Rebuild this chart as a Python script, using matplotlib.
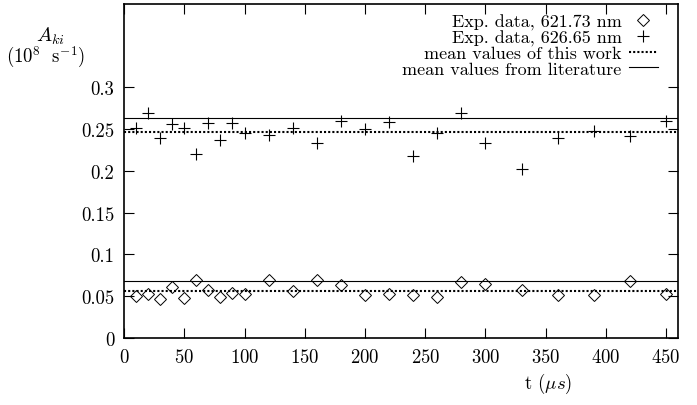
import numpy as np
import matplotlib
matplotlib.use("Agg")
import matplotlib.pyplot as plt
from matplotlib.ticker import MultipleLocator

plt.rcParams['font.family'] = ['cmr10', 'DejaVu Serif']
plt.rcParams['mathtext.fontset'] = 'cm'
plt.rcParams['axes.formatter.use_mathtext'] = True

# time points (us)
t = [10, 20, 30, 40, 50, 60, 70, 80, 90, 100, 120, 140, 160, 180, 200, 220,
     240, 260, 280, 300, 330, 360, 390, 420, 450]

# 621.73 nm
a_621 = [0.050, 0.053, 0.047, 0.061, 0.048, 0.069, 0.058, 0.049, 0.054, 0.053,
         0.069, 0.056, 0.070, 0.064, 0.051, 0.053, 0.051, 0.049, 0.067, 0.065,
         0.057, 0.052, 0.052, 0.068, 0.053]
# 626.65 nm
a_626 = [0.252, 0.269, 0.239, 0.256, 0.252, 0.220, 0.257, 0.237, 0.257, 0.246,
         0.243, 0.251, 0.233, 0.260, 0.250, 0.259, 0.218, 0.246, 0.269, 0.233,
         0.202, 0.240, 0.248, 0.242, 0.260]

mean_this = [0.0566, 0.2472]
mean_lit = [0.0686, 0.2632]

fs = 13.5

fig = plt.figure(figsize=(6.97, 4.06), dpi=100)
ax = fig.add_axes([0.178, 0.165, 0.795, 0.823])

ax.plot(t, a_621, ls='none', marker='D', ms=6.5, mfc='none', mec='black', mew=0.7,
        label='Exp. data, 621.73 nm')
ax.plot(t, a_626, ls='none', marker='+', ms=9, mec='black', mew=0.8,
        label='Exp. data, 626.65 nm')
for i, m in enumerate(mean_this):
    ax.axhline(m, color='black', lw=1.5, ls=(0, (1, 1)),
               label='mean values of this work' if i == 0 else None)
for i, m in enumerate(mean_lit):
    ax.axhline(m, color='black', lw=0.8,
               label='mean values from literature' if i == 0 else None)

ax.set_xlim(0, 460)
ax.set_ylim(0, 0.4)
ax.set_yticks([0, 0.05, 0.1, 0.15, 0.2, 0.25, 0.3])
ax.set_yticklabels(['0', '0.05', '0.1', '0.15', '0.2', '0.25', '0.3'])
ax.xaxis.set_major_locator(MultipleLocator(50))
ax.tick_params(direction='in', top=True, right=True, length=7, width=0.8,
               labelsize=fs, pad=7)
for s in ax.spines.values():
    s.set_linewidth(1.2)

ax.legend(loc='upper right', bbox_to_anchor=(0.976, 0.992), frameon=False,
          markerfirst=False, fontsize=13, handlelength=1.6, handletextpad=0.4,
          labelspacing=-0.02, borderaxespad=0)

fig.text(0.072, 0.911, r'$A_{ki}$', fontsize=fs + 1, ha='center', va='center')
fig.text(0.065, 0.858, r'$(10^8\ \ \mathrm{s}^{-1})$', fontsize=fs, ha='center',
         va='center')
fig.text(0.787, 0.054, r't $(\mu s)$', fontsize=fs, ha='center', va='center')

fig.savefig('out.png', dpi=100)
